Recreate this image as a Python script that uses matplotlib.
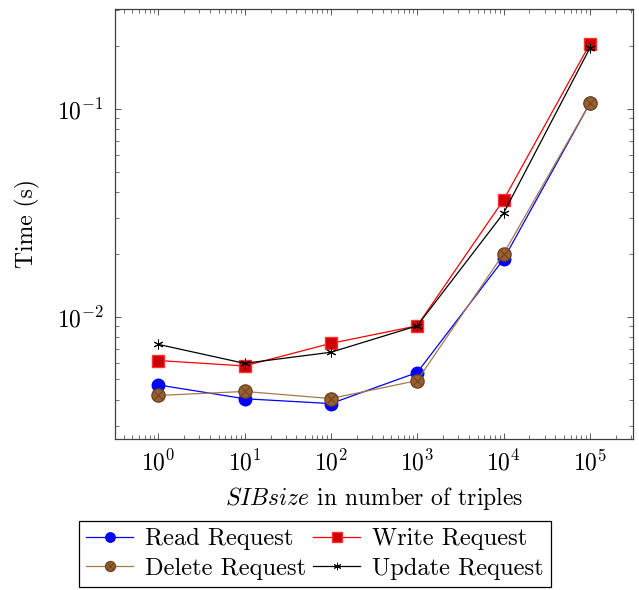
import matplotlib
matplotlib.use('Agg')
from matplotlib import pyplot as plt
from matplotlib.legend_handler import HandlerTuple

plt.rcParams['font.family'] = 'serif'
plt.rcParams['font.serif'] = ['cmr10']
plt.rcParams['mathtext.fontset'] = 'cm'
plt.rcParams['axes.unicode_minus'] = False
plt.rcParams['axes.formatter.use_mathtext'] = True

# SIB size in number of triples
sib_size = [1, 10, 100, 1000, 10000, 100000]

# request times in seconds
read_times = [0.00471, 0.00404, 0.00383, 0.0054, 0.0189, 0.1065]
write_times = [0.00617, 0.00581, 0.00746, 0.00906, 0.0365, 0.2053]
delete_times = [0.00419, 0.00438, 0.00405, 0.00494, 0.0201, 0.1065]
update_times = [0.00738, 0.00598, 0.00676, 0.00906, 0.0315, 0.196]

x_label = '$SIBsize$ in number of triples'
y_label = 'Time (s)'

FS = 17


def main():
    fig = plt.figure(figsize=(6.39, 5.9), dpi=100)
    ax = fig.add_axes([0.18, 0.256, 0.8106, 0.7288])
    ax.set_xscale('log')
    ax.set_yscale('log')

    read, = ax.plot(sib_size, read_times, color='blue', lw=0.9,
                    marker='o', ms=9, mfc='blue', mec='blue')
    write, = ax.plot(sib_size, write_times, color='red', lw=0.9,
                     marker='s', ms=9, mfc='#cc0000', mec='#ff3333')
    delete, = ax.plot(sib_size, delete_times, color='#a67a4d', lw=0.9,
                      marker='o', ms=9.5, mfc='#9a6030', mec='#6e4520')
    delete_x, = ax.plot(sib_size, delete_times, ls='none', marker='x',
                        ms=6, mec='#6e4520', mew=0.8)
    update, = ax.plot(sib_size, update_times, color='black', lw=0.9,
                      marker=(6, 2, 0), ms=7, mec='black', mew=0.7)

    ax.set_xlim(10 ** -0.5, 10 ** 5.5)
    ax.set_ylim(10 ** -2.587, 10 ** -0.519)

    ax.tick_params(which='both', direction='in', top=True, right=True,
                   color='0.35', labelsize=FS)
    ax.tick_params(which='major', length=4.5, width=0.7, pad=8)
    ax.tick_params(which='minor', length=2.6, width=0.6)
    for s in ax.spines.values():
        s.set_linewidth(0.9)
        s.set_color('0.25')

    ax.set_xlabel(x_label, fontsize=FS, labelpad=7)
    ax.set_ylabel(y_label, fontsize=FS, labelpad=12)

    # legend fills by column, so order gives rows Read/Write and Delete/Update
    handles = [read, (delete, delete_x), write, update]
    labels = ['Read Request', 'Delete Request', 'Write Request', 'Update Request']
    leg = fig.legend(handles, labels,
                     handler_map={tuple: HandlerTuple(ndivide=1)},
                     loc='upper center', bbox_to_anchor=(0.493, 0.117), ncol=2,
                     fontsize=17.6, fancybox=False, edgecolor='black', framealpha=1,
                     handlelength=1.9, handletextpad=0.5, columnspacing=0.3,
                     borderpad=0.3, labelspacing=0.3, borderaxespad=0,
                     markerscale=0.75)
    leg.get_frame().set_linewidth(0.9)

    fig.savefig('out.png', dpi=100)


if __name__ == '__main__':
    main()
